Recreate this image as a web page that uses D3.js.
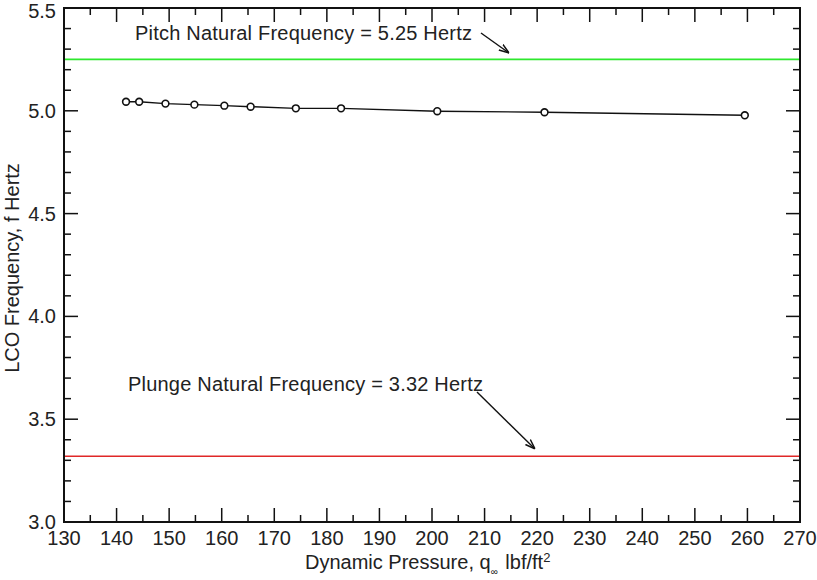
<!DOCTYPE html>
<html><head><meta charset="utf-8">
<script src="https://cdn.jsdelivr.net/npm/d3@7"></script>
<style>body{margin:0;background:#fff}svg{display:block}text{font-family:"Liberation Sans",Arial,sans-serif;fill:#222}</style>
</head><body><svg id="c" width="817" height="580"></svg>
<script>
const pressure = [141.8, 144.3, 149.3, 154.8, 160.5, 165.5, 174.1, 182.7, 201.0, 221.4, 259.5];
const lcoFreq  = [5.044, 5.044, 5.035, 5.030, 5.025, 5.020, 5.012, 5.012, 4.998, 4.993, 4.978];
const xTicks = [130,140,150,160,170,180,190,200,210,220,230,240,250,260,270];
const yTicks = [3.0,3.5,4.0,4.5,5.0,5.5];
const pitchFreq = 5.25, plungeFreq = 3.32;

const svg = d3.select("#c");
const L=64,R=800,T=8,B=522;
const x = d3.scaleLinear().domain([130,270]).range([L,R]);
const y = d3.scaleLinear().domain([3.0,5.5]).range([B,T]);
const g = svg.append("g");

// reference lines
g.append("line").attr("x1",L).attr("x2",R).attr("y1",y(pitchFreq)).attr("y2",y(pitchFreq)).attr("stroke","#2ee82e").attr("stroke-width",1.6);
g.append("line").attr("x1",L).attr("x2",R).attr("y1",y(plungeFreq)).attr("y2",y(plungeFreq)).attr("stroke","#e02828").attr("stroke-width",1.5);

// ticks (inward, all sides)
const xMinor = d3.range(135,270,10);
const yMinor = d3.range(3.0,5.5001,0.1).filter(v=>Math.abs(v*2-Math.round(v*2))>1e-6);
const tk = svg.append("g").attr("stroke","#111").attr("stroke-width",1.5);
xTicks.forEach(v=>{tk.append("line").attr("x1",x(v)).attr("x2",x(v)).attr("y1",B).attr("y2",B-14);
  tk.append("line").attr("x1",x(v)).attr("x2",x(v)).attr("y1",T).attr("y2",T+14);});
xMinor.forEach(v=>{tk.append("line").attr("x1",x(v)).attr("x2",x(v)).attr("y1",B).attr("y2",B-7);
  tk.append("line").attr("x1",x(v)).attr("x2",x(v)).attr("y1",T).attr("y2",T+7);});
yTicks.forEach(v=>{tk.append("line").attr("y1",y(v)).attr("y2",y(v)).attr("x1",L).attr("x2",L+14);
  tk.append("line").attr("y1",y(v)).attr("y2",y(v)).attr("x1",R).attr("x2",R-14);});
yMinor.forEach(v=>{tk.append("line").attr("y1",y(v)).attr("y2",y(v)).attr("x1",L).attr("x2",L+7);
  tk.append("line").attr("y1",y(v)).attr("y2",y(v)).attr("x1",R).attr("x2",R-7);});
svg.append("rect").attr("x",L).attr("y",T).attr("width",R-L).attr("height",B-T).attr("fill","none").attr("stroke","#111").attr("stroke-width",2);

// tick labels
xTicks.forEach(v=>svg.append("text").attr("x",x(v)).attr("y",545).attr("text-anchor","middle").attr("font-size",20).text(v));
yTicks.forEach(v=>svg.append("text").attr("x",56).attr("y",Math.max(y(v),11)).attr("dy","0.35em").attr("text-anchor","end").attr("font-size",20).text(v.toFixed(1)));

// data line + markers
const pts = pressure.map((p,i)=>[p,lcoFreq[i]]);
svg.append("path").datum(pts).attr("d",d3.line().x(d=>x(d[0])).y(d=>y(d[1]))).attr("fill","none").attr("stroke","#111").attr("stroke-width",1.4);
svg.selectAll("circle.m").data(pts).enter().append("circle").attr("cx",d=>x(d[0])).attr("cy",d=>y(d[1])).attr("r",3.4).attr("fill","#fff").attr("stroke","#111").attr("stroke-width",1.6);

// annotations
const defs = svg.append("defs");
defs.append("marker").attr("id","ah").attr("viewBox","0 0 10 10").attr("refX",10).attr("refY",5).attr("markerWidth",10).attr("markerHeight",10).attr("orient","auto-start-reverse").attr("markerUnits","userSpaceOnUse")
  .append("path").attr("d","M0,1.5 L10,5 L0,8.5").attr("fill","none").attr("stroke","#111").attr("stroke-width",1.5);
svg.append("text").attr("x",135).attr("y",40).attr("font-size",20).attr("textLength",337).text("Pitch Natural Frequency = 5.25 Hertz");
svg.append("line").attr("x1",481).attr("y1",33).attr("x2",509).attr("y2",53).attr("stroke","#111").attr("stroke-width",1.4).attr("marker-end","url(#ah)");
svg.append("text").attr("x",128).attr("y",391).attr("font-size",20).attr("textLength",355).text("Plunge Natural Frequency = 3.32 Hertz");
svg.append("line").attr("x1",477).attr("y1",392).attr("x2",535).attr("y2",449).attr("stroke","#111").attr("stroke-width",1.4).attr("marker-end","url(#ah)");

// axis titles
const xt = svg.append("text").attr("x",305).attr("y",569).attr("font-size",20);
xt.append("tspan").text("Dynamic Pressure, q");
xt.append("tspan").attr("font-size",10).attr("dy",6).text("∞");
xt.append("tspan").attr("dy",-6).attr("dx",2).text(" lbf/ft");
xt.append("tspan").attr("font-size",13).attr("dy",-7).text("2");
svg.append("text").attr("transform","translate(19,268) rotate(-90)").attr("text-anchor","middle").attr("font-size",20).text("LCO Frequency, f Hertz");
</script></body></html>
